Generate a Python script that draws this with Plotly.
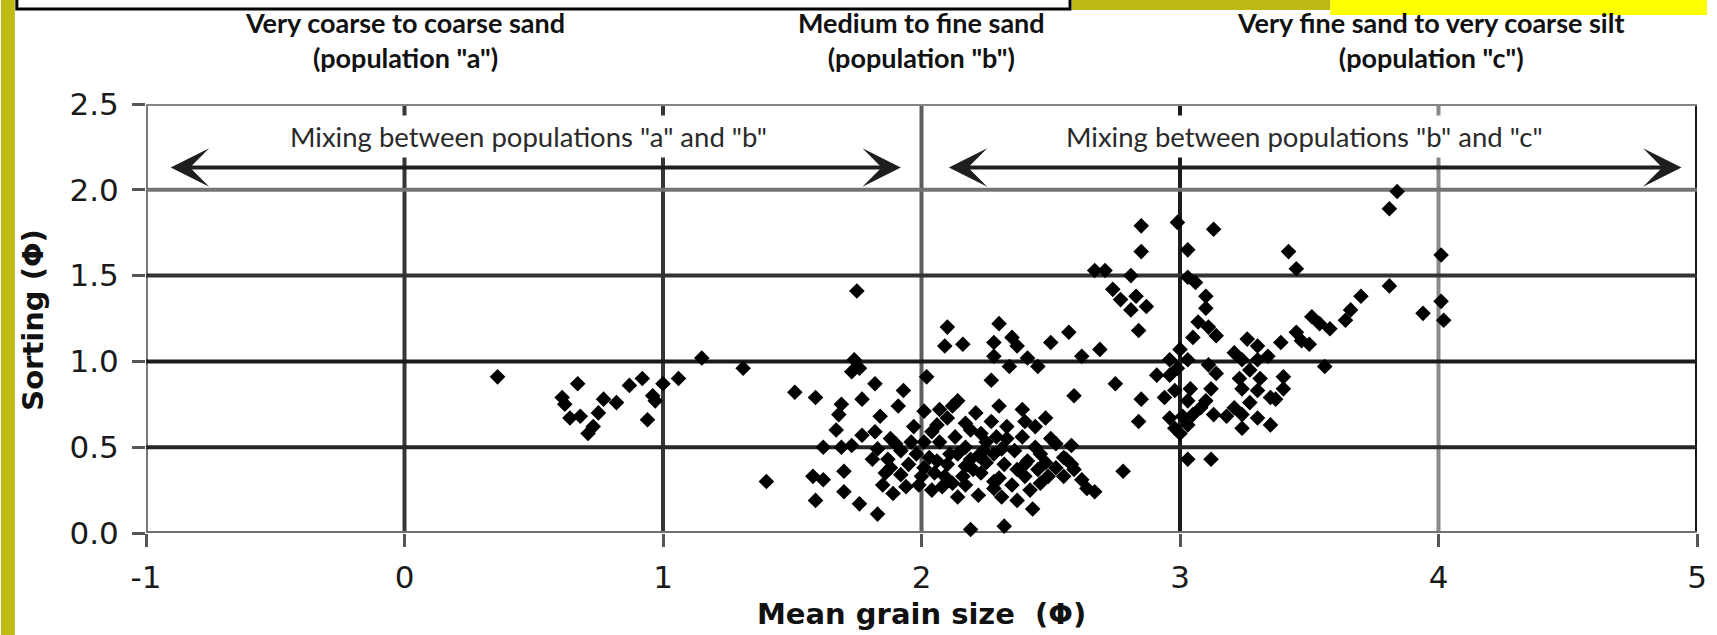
import plotly.graph_objects as go

# Mean grain size (phi) and sorting (phi) of the samples
mean_grain_size = [
    0.36, 0.67, 0.61, 0.62, 0.64, 0.68, 0.77, 0.82, 0.75, 0.73, 0.71, 0.87, 0.92, 0.94,
    0.97, 0.96, 1.00, 1.06, 1.15, 1.31, 1.40, 1.51, 1.59, 1.75, 1.74, 1.76, 1.73, 1.77,
    1.69, 1.68, 1.67, 1.77, 1.73, 1.62, 1.69, 1.70, 1.58, 1.62, 1.70, 1.59, 1.76,
    2.02, 1.82, 1.93, 2.27, 2.59, 2.75, 1.91, 1.84, 2.01, 2.07, 2.14, 2.30, 2.48, 2.40,
    2.33, 2.27, 2.21, 2.10, 2.17, 2.04, 2.23, 2.13, 1.82, 1.88, 1.96, 2.01, 2.07, 2.17,
    2.25, 2.33, 2.39, 2.50, 2.58, 1.83, 1.92, 1.98, 2.03, 2.11, 2.19, 2.28, 2.36, 2.46,
    2.55, 1.81, 1.87, 1.95, 2.01, 2.10, 2.17, 2.25, 2.32, 2.41, 2.48, 2.56, 1.86, 1.92,
    2.05, 2.16, 2.23, 2.30, 2.40, 2.49, 2.55, 2.62, 1.85, 1.99, 2.08, 2.17, 2.28, 2.35,
    2.42, 2.64, 2.67, 1.89, 2.04, 2.14, 2.22, 2.31, 2.37, 2.43, 1.83, 2.19, 2.32, 2.78,
    2.12, 2.39, 2.24, 2.45, 2.59, 1.94, 2.09, 2.37, 1.90, 2.44,
    1.97, 2.06, 2.19, 2.29, 2.44, 2.14, 2.22, 2.06, 2.31, 2.40, 2.52, 2.28, 2.46, 2.12,
    2.00, 2.58, 2.20, 1.88, 2.52,
    2.10, 2.09, 2.16, 2.30, 2.28, 2.35, 2.37, 2.28, 2.34, 2.41, 2.45, 2.50, 2.57, 2.62,
    2.69, 2.67, 2.71, 2.81, 2.74, 2.77, 2.83, 2.81, 2.84, 2.85, 2.85, 2.85, 2.84,
    2.87, 3.10, 3.07, 3.11, 3.14, 3.05, 3.00, 2.96, 3.03, 2.91, 2.96, 2.99, 3.11, 3.14,
    2.98, 3.04, 3.12, 2.94, 3.03, 3.10, 3.08, 3.13, 2.96, 3.01, 3.05, 2.98, 3.03, 3.00,
    3.26, 3.30, 3.21, 3.24, 3.30, 3.34, 3.27, 3.23, 3.31, 3.24, 3.30, 3.35, 3.27, 3.21,
    3.18, 3.24, 3.30, 3.35, 3.24, 3.40, 3.40, 3.37, 3.39, 3.45, 3.51, 3.50, 3.54, 3.58,
    3.64, 3.66, 3.56, 3.47,
    2.99, 3.13, 3.03, 3.42, 3.45, 3.03, 3.06, 3.10, 3.70, 3.84, 3.81, 3.81, 4.01, 4.01,
    3.94, 4.02, 3.03, 3.12,
]
sorting = [
    0.91, 0.87, 0.79, 0.75, 0.67, 0.68, 0.78, 0.76, 0.70, 0.62, 0.58, 0.86, 0.90, 0.66,
    0.77, 0.80, 0.87, 0.90, 1.02, 0.96, 0.30, 0.82, 0.79, 1.41, 1.01, 0.96, 0.94, 0.78,
    0.75, 0.69, 0.60, 0.57, 0.51, 0.50, 0.50, 0.36, 0.33, 0.31, 0.24, 0.19, 0.17,
    0.91, 0.87, 0.83, 0.89, 0.80, 0.87, 0.74, 0.68, 0.71, 0.72, 0.77, 0.74, 0.67, 0.65,
    0.62, 0.65, 0.70, 0.67, 0.64, 0.59, 0.58, 0.56, 0.59, 0.55, 0.53, 0.53, 0.53, 0.50,
    0.53, 0.55, 0.56, 0.55, 0.51, 0.49, 0.48, 0.46, 0.44, 0.46, 0.43, 0.46, 0.48, 0.46,
    0.44, 0.43, 0.43, 0.40, 0.38, 0.40, 0.39, 0.41, 0.40, 0.42, 0.41, 0.43, 0.35, 0.34,
    0.35, 0.33, 0.35, 0.32, 0.33, 0.33, 0.33, 0.31, 0.28, 0.28, 0.27, 0.28, 0.26, 0.28,
    0.25, 0.26, 0.24, 0.23, 0.25, 0.21, 0.22, 0.21, 0.19, 0.14, 0.11, 0.02, 0.04, 0.36,
    0.74, 0.72, 0.48, 0.37, 0.37, 0.27, 0.33, 0.37, 0.52, 0.50,
    0.62, 0.63, 0.60, 0.56, 0.62, 0.46, 0.45, 0.42, 0.49, 0.40, 0.38, 0.30, 0.29, 0.29,
    0.33, 0.40, 0.37, 0.38, 0.52,
    1.20, 1.09, 1.10, 1.22, 1.11, 1.14, 1.09, 1.03, 0.97, 1.02, 0.97, 1.11, 1.17, 1.03,
    1.07, 1.53, 1.53, 1.50, 1.42, 1.36, 1.38, 1.30, 1.18, 1.79, 1.64, 0.78, 0.65,
    1.32, 1.31, 1.23, 1.20, 1.15, 1.14, 1.07, 1.01, 1.01, 0.92, 0.92, 0.96, 0.98, 0.93,
    0.83, 0.84, 0.84, 0.79, 0.77, 0.77, 0.73, 0.69, 0.67, 0.68, 0.69, 0.61, 0.63, 0.58,
    1.13, 1.09, 1.05, 1.01, 1.01, 1.03, 0.95, 0.90, 0.90, 0.84, 0.83, 0.79, 0.76, 0.73,
    0.68, 0.69, 0.67, 0.63, 0.61, 0.91, 0.84, 0.78, 1.11, 1.17, 1.26, 1.10, 1.22, 1.19,
    1.24, 1.30, 0.97, 1.12,
    1.81, 1.77, 1.65, 1.64, 1.54, 1.49, 1.46, 1.38, 1.38, 1.99, 1.89, 1.44, 1.62, 1.35,
    1.28, 1.24, 0.43, 0.43,
]

x_ticks = [-1, 0, 1, 2, 3, 4, 5]
x_tick_text = ["-1", "0", "1", "2", "3", "4", "5"]
y_ticks = [0.0, 0.5, 1.0, 1.5, 2.0, 2.5]
y_tick_text = ["0.0", "0.5", "1.0", "1.5", "2.0", "2.5"]

# grid line shades, one per tick
x_grid_colors = ["#7a7a7a", "#363636", "#363636", "#5e5e5e", "#1c1c1c", "#8a8a8a", "#161616"]
y_grid_colors = ["#707070", "#262626", "#1a1a1a", "#333333", "#747474", "#848484"]

# grain-size classes written above the plot
class_x = [0.0, 2.0, 3.97]
class_names = ["Very coarse to coarse sand", "Medium to fine sand",
               "Very fine sand to very coarse silt"]
class_pops = ['(population "a")', '(population "b")', '(population "c")']

# mixing ranges shown with double arrows
mix_labels = ['Mixing between populations "a" and "b"',
              'Mixing between populations "b" and "c"']
mix_label_x = [0.48, 3.48]
mix_start = [-0.91, 2.10]
mix_end = [1.92, 4.94]
mix_y = 2.13

W, H = 1717, 635
ML, MR, MT, MB = 146, 10, 104, 102


def paper_x(px):
    return (px - ML) / (W - ML - MR)


def paper_y(py):
    return (H - MB - py) / (H - MT - MB)


NARROW = "Lato, Roboto, Liberation Sans, sans-serif"
PLAIN = "DejaVu Sans, Liberation Sans, Arial, sans-serif"

fig = go.Figure()
fig.add_trace(go.Scatter(
    x=mean_grain_size, y=sorting, mode="markers",
    marker=dict(symbol="diamond", size=12, color="#000000", line=dict(width=0)),
    cliponaxis=False, showlegend=False, hoverinfo="x+y",
))

shapes = []
for v, c in zip(x_ticks, x_grid_colors):
    shapes.append(dict(type="line", xref="x", yref="y", x0=v, x1=v, y0=0, y1=2.5,
                       line=dict(color=c, width=4), layer="below"))
for v, c in zip(y_ticks, y_grid_colors):
    shapes.append(dict(type="line", xref="x", yref="y", x0=-1, x1=5, y0=v, y1=v,
                       line=dict(color=c, width=4), layer="below"))

# page decoration around the figure
shapes += [
    dict(type="rect", xref="paper", yref="paper", x0=paper_x(0), x1=paper_x(14),
         y0=paper_y(H), y1=paper_y(0), fillcolor="#BEB914", line=dict(width=0)),
    dict(type="rect", xref="paper", yref="paper", x0=paper_x(16), x1=paper_x(1076),
         y0=paper_y(9), y1=paper_y(-6), fillcolor="#ffffff",
         line=dict(color="#000000", width=3)),
    dict(type="rect", xref="paper", yref="paper", x0=paper_x(1078), x1=paper_x(1338),
         y0=paper_y(10), y1=paper_y(0), fillcolor="#BEB914", line=dict(width=0)),
    dict(type="rect", xref="paper", yref="paper", x0=paper_x(1338), x1=paper_x(W),
         y0=paper_y(15), y1=paper_y(0), fillcolor="#FFFF00", line=dict(width=0)),
]

annotations = []
for cx, name, pop in zip(class_x, class_names, class_pops):
    annotations.append(dict(x=cx, y=paper_y(40), xref="x", yref="paper",
                            text=name + "<br>" + pop, align="center",
                            showarrow=False, xanchor="center", yanchor="middle",
                            borderpad=0,
                            font=dict(family=NARROW, size=27, color="#111111", weight="bold")))

for x0, x1 in zip(mix_start, mix_end):
    annotations.append(dict(x=x1, y=mix_y, ax=x0, ay=mix_y, xref="x", yref="y",
                            axref="x", ayref="y", text="", showarrow=True,
                            arrowside="end+start", arrowhead=3, startarrowhead=3,
                            arrowsize=1.6, startarrowsize=1.6, arrowwidth=4,
                            arrowcolor="#1e1e1e", standoff=0, startstandoff=0))

for lx, label in zip(mix_label_x, mix_labels):
    annotations.append(dict(x=lx, y=2.31, xref="x", yref="y", text=label, showarrow=False,
                            xanchor="center", yanchor="middle", bgcolor="#ffffff",
                            borderpad=4,
                            font=dict(family=NARROW, size=27.5, color="#2a2a2a")))

annotations.append(dict(x=0.5, y=paper_y(614), xref="paper", yref="paper",
                        text="Mean grain size  (Φ)", showarrow=False,
                        xanchor="center", yanchor="middle",
                        font=dict(family=PLAIN, size=29, color="#111111", weight="bold")))
annotations.append(dict(x=paper_x(32), y=paper_y(320), xref="paper", yref="paper",
                        text="Sorting (Φ)", showarrow=False, textangle=-90,
                        xanchor="center", yanchor="middle",
                        font=dict(family=PLAIN, size=29, color="#111111", weight="bold")))

fig.update_layout(
    width=W, height=H,
    margin=dict(l=ML, r=MR, t=MT, b=MB, pad=0),
    paper_bgcolor="#ffffff", plot_bgcolor="#ffffff",
    shapes=shapes, annotations=annotations,
    xaxis=dict(range=[-1, 5], tickvals=x_ticks, ticktext=x_tick_text,
               showgrid=False, zeroline=False, showline=False,
               ticks="outside", ticklen=13, tickwidth=3, tickcolor="#555555",
               ticklabelstandoff=4,
               tickfont=dict(family=PLAIN, size=31, color="#1a1a1a")),
    yaxis=dict(range=[0, 2.5], tickvals=y_ticks, ticktext=y_tick_text,
               showgrid=False, zeroline=False, showline=False,
               ticks="outside", ticklen=13, tickwidth=3, tickcolor="#555555",
               ticklabelstandoff=7,
               tickfont=dict(family=PLAIN, size=31, color="#1a1a1a")),
)

fig.write_html("out.html")
